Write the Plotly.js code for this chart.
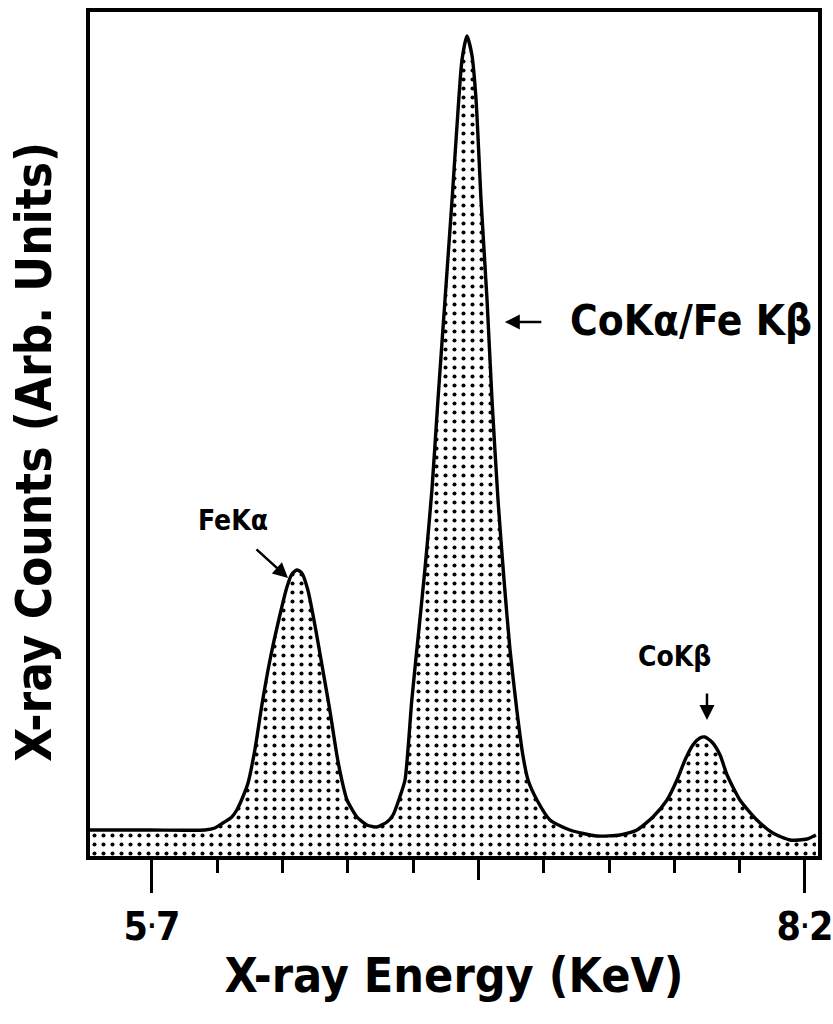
<!DOCTYPE html>
<html>
<head>
<meta charset="utf-8">
<script src="https://cdn.plot.ly/plotly-3.0.1.min.js"></script>
<style>html,body{margin:0;padding:0;background:#fff;}#chart{width:833px;height:1024px;}</style>
</head>
<body>
<div id="chart"></div>
<script>
// X-ray energy (keV) and counts (arbitrary units)
const energy = [5.463, 5.692, 5.903, 5.941, 5.972, 6.006, 6.025, 6.048, 6.068, 6.094, 6.121, 6.152, 6.190, 6.217, 6.236, 6.255, 6.274, 6.297, 6.324, 6.351, 6.381, 6.408, 6.427, 6.447, 6.485, 6.523, 6.561, 6.600, 6.623, 6.649, 6.669, 6.695, 6.718, 6.745, 6.772, 6.795, 6.822, 6.849, 6.872, 6.887, 6.906, 6.925, 6.941, 6.960, 6.983, 7.002, 7.025, 7.048, 7.071, 7.097, 7.120, 7.140, 7.174, 7.224, 7.300, 7.404, 7.492, 7.557, 7.618, 7.672, 7.710, 7.741, 7.771, 7.798, 7.817, 7.844, 7.875, 7.902, 7.951, 8.016, 8.077, 8.143, 8.208, 8.242];
const counts = [26, 26, 26, 28, 33, 39, 46, 59, 73, 106, 151, 196, 241, 269, 282, 286, 283, 266, 231, 191, 146, 101, 76, 56, 39, 31, 29, 34, 41, 59, 76, 156, 216, 286, 366, 456, 556, 656, 746, 796, 820, 801, 756, 656, 556, 456, 356, 276, 206, 146, 101, 76, 56, 36, 26, 20, 21, 26, 39, 56, 76, 96, 111, 118, 119, 114, 101, 81, 56, 36, 23, 16, 17, 21];

const majorTicks = [5.7, 8.2];
const DOT = '<span style="font-size:24px;baseline-shift:6px">·</span>';
const majorTickText = ['5' + DOT + '7', '8' + DOT + '2'];
const midTicks = [6.95];
const minorStep = 0.25;

const peakLabels = ['FeKα', 'CoKα/Fe Kβ', 'CoKβ'];
const xTitle = 'X-ray Energy (KeV)';
const yTitle = 'X-ray Counts (Arb. Units)';

const FONT = '"DejaVu Sans Condensed", "DejaVu Sans", sans-serif';

const trace = {
  x: energy, y: counts, type: 'scatter', mode: 'lines',
  line: {color: '#000', width: 3.4, shape: 'spline', smoothing: 0.6},
  fill: 'tozeroy',
  fillcolor: '#fff',
  fillpattern: {shape: '.', size: 9, solidity: 0.16, fgcolor: '#000', bgcolor: '#fff', fillmode: 'replace'},
  hoverinfo: 'skip'
};
const midTrace = {x: [6.95], y: [0], xaxis: 'x2', yaxis: 'y', mode: 'markers', marker: {opacity: 0}, hoverinfo: 'skip', showlegend: false};

const layout = {
  width: 833, height: 1024,
  margin: {l: 90, r: 15, t: 12, b: 168},
  paper_bgcolor: '#fff', plot_bgcolor: '#fff',
  showlegend: false,
  font: {family: FONT, color: '#000'},
  xaxis: {
    range: [5.463, 8.25], showgrid: false, zeroline: false,
    showline: true, mirror: true, linecolor: '#000', linewidth: 4,
    tickmode: 'array', tickvals: majorTicks, ticktext: majorTickText,
    ticks: 'outside', ticklen: 33, tickwidth: 3, tickcolor: '#000',
    ticklabelstandoff: 0, ticklabeloverflow: 'allow',
    tickfont: {family: FONT, size: 39, color: '#000', weight: 'bold'},
    minor: {tick0: 5.7, dtick: minorStep, ticks: 'outside', ticklen: 13, tickwidth: 3, tickcolor: '#000', showgrid: false},
    title: {text: xTitle, font: {family: FONT, size: 48, color: '#000', weight: 'bold'}, standoff: 12}
  },
  xaxis2: {
    overlaying: 'x', range: [5.463, 8.25], showgrid: false, zeroline: false, showline: false,
    tickmode: 'array', tickvals: midTicks, ticks: 'outside', ticklen: 23, tickwidth: 3, tickcolor: '#000',
    showticklabels: false, side: 'bottom', anchor: 'y'
  },
  yaxis: {
    range: [0, 844], showgrid: false, zeroline: false,
    showline: true, mirror: true, linecolor: '#000', linewidth: 4,
    ticks: '', showticklabels: false
  },
  annotations: [
    {xref: 'paper', yref: 'paper', x: 0, y: 0.479, xshift: -55, xanchor: 'center', yanchor: 'middle', textangle: -90, text: yTitle, showarrow: false, font: {family: FONT, size: 49, color: '#000', weight: 'bold'}},
    {x: 6.221, y: 278, xref: 'x', yref: 'y', text: '', showarrow: true, ax: -33, ay: -30, arrowhead: 2, arrowsize: 1.2, arrowwidth: 2.5, arrowcolor: '#000'},
    {x: 6.010, y: 336, xref: 'x', yref: 'y', text: peakLabels[0], showarrow: false, font: {family: FONT, size: 28, color: '#000', weight: 'bold'}},
    {x: 7.051, y: 534, xref: 'x', yref: 'y', text: '', showarrow: true, ax: 38, ay: 0, arrowhead: 2, arrowsize: 1.2, arrowwidth: 2.5, arrowcolor: '#000'},
    {x: 7.293, y: 536, xref: 'x', yref: 'y', text: peakLabels[1], showarrow: false, xanchor: 'left', font: {family: FONT, size: 42, color: '#000', weight: 'bold'}},
    {x: 7.825, y: 136, xref: 'x', yref: 'y', text: '', showarrow: true, ax: 0, ay: -28, arrowhead: 2, arrowsize: 1.2, arrowwidth: 2.5, arrowcolor: '#000'},
    {x: 7.702, y: 200, xref: 'x', yref: 'y', text: peakLabels[2], showarrow: false, font: {family: FONT, size: 28, color: '#000', weight: 'bold'}}
  ]
};

Plotly.newPlot('chart', [trace, midTrace], layout, {staticPlot: true});
</script>
</body>
</html>
